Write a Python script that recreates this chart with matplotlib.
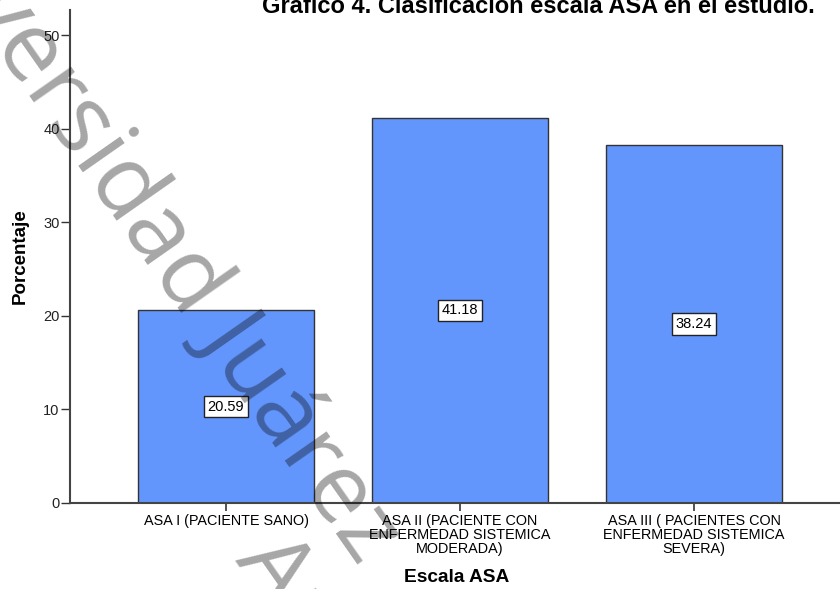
import numpy as np
import matplotlib
matplotlib.use("Agg")
import matplotlib.pyplot as plt

categories = [
    "ASA I (PACIENTE SANO)",
    "ASA II (PACIENTE CON\nENFERMEDAD SISTEMICA\nMODERADA)",
    "ASA III ( PACIENTES CON\nENFERMEDAD SISTEMICA\nSEVERA)",
]
percentages = [20.59, 41.18, 38.24]
y_ticks = [0, 10, 20, 30, 40, 50]

W, H = 840, 589
plt.rcParams['font.family'] = ['Liberation Sans', 'DejaVu Sans']

fig = plt.figure(figsize=(W / 100, H / 100), dpi=100)
ax = fig.add_axes([70 / W, 1 - 503 / H, (W - 70) / W, 493 / H])

x = np.arange(len(categories))
ax.bar(x, percentages, width=0.752, color='#6396FC', edgecolor='#333333', linewidth=1.0, zorder=2)

for xi, v in zip(x, percentages):
    ax.text(xi, v / 2, f"{v:.2f}", ha='center', va='center', fontsize=10.5, zorder=3,
            bbox=dict(boxstyle='square,pad=0.25', fc='white', ec='#222222', lw=1))

ax.set_xlim(-0.667, 2.624)
ax.set_ylim(0, 52.7)
ax.set_yticks(y_ticks)
ax.set_xticks(x)
ax.set_xticklabels(categories, fontsize=10.4, linespacing=0.98)
ax.tick_params(axis='y', direction='out', length=6.5, width=1, color='#333333',
               labelsize=10.5, labelcolor='#222222', pad=1)
ax.tick_params(axis='x', direction='out', length=6, width=1.2, color='#333333', pad=2)

for s in ['top', 'right']:
    ax.spines[s].set_visible(False)
for s in ['left', 'bottom']:
    ax.spines[s].set_color('#444444')
    ax.spines[s].set_linewidth(1.5)

fig.text(20 / W, 1 - 256 / H, 'Porcentaje', ha='center', va='center', rotation=90,
         fontsize=13.5, fontweight='bold')
fig.text(457 / W, 1 - 578 / H, 'Escala ASA', ha='center', va='center',
         fontsize=13.8, fontweight='bold')

# title, clipped at the top edge as in the source
fig.text(538 / W, 1 - 13 / H, 'Gráfico 4. Clasificación escala ASA en el estudio.',
         ha='center', va='baseline', fontsize=17, fontweight='bold')

# watermark: place rotated text so that a chosen character sits on a pixel target
renderer = fig.canvas.get_renderer()
wm_font = dict(family=['Open Sans', 'DejaVu Sans'], fontweight='normal')


def text_width(s, size):
    t = fig.text(0, 0, s, fontsize=size, **wm_font)
    w = t.get_window_extent(renderer).width
    t.remove()
    return w


def char_center(s, k, size):
    return text_width(s[:k], size) + text_width(s[k], size) / 2


def place_wm(s, k, target, size, angle, h):
    a = np.deg2rad(angle)
    d = np.array([np.cos(a), np.sin(a)])       # along text, pixel coords y down
    up = np.array([np.sin(a), -np.cos(a)])     # glyph up direction
    along = char_center(s, k, size)
    start = np.array(target) - along * d - h * size * 100 / 72 * up
    fig.text(start[0] / W, 1 - start[1] / H, s, rotation=-angle, rotation_mode='anchor',
             ha='left', va='baseline', fontsize=size, color='black', alpha=0.35,
             zorder=10, **wm_font)


angle = 55
line1 = 'Universidad Juárez'
i_e, i_z = 3, line1.index('z')
base = 70
dist = char_center(line1, i_z, base) - char_center(line1, i_e, base)
size = base * 640 / dist
place_wm(line1, i_e, (0, 10), size, angle, 0.27)
place_wm('Autónoma de Tabasco', 0, (280, 565), size, angle, 0.36)

fig.savefig('out.png', dpi=100)
